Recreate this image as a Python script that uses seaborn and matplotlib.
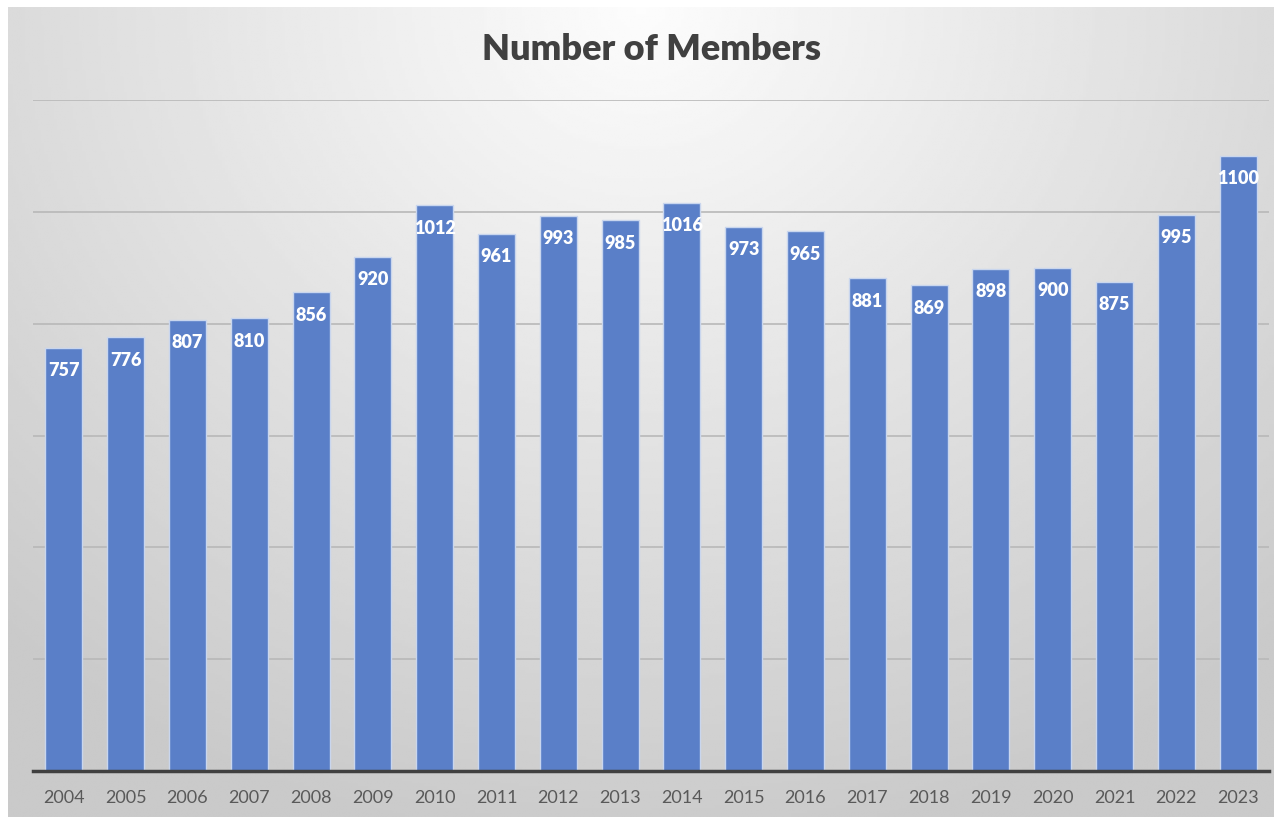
import numpy as np
import pandas as pd
import matplotlib
matplotlib.use("Agg")
import matplotlib.pyplot as plt
import seaborn as sns

years = [str(y) for y in range(2004, 2024)]
members = [757, 776, 807, 810, 856, 920, 1012, 961, 993, 985,
           1016, 973, 965, 881, 869, 898, 900, 875, 995, 1100]

df = pd.DataFrame({"year": years, "members": members})

sns.set_theme(style="white")
plt.rcParams["font.family"] = ["Lato", "DejaVu Sans"]

fig = plt.figure(figsize=(12.74, 8.17), dpi=100)
fig.patch.set_facecolor("white")

# gradient background panel (light at top centre, grey towards bottom/edges)
bg = fig.add_axes([8 / 1274, 0, 1 - 8 / 1274, 1 - 7 / 817], zorder=0)
gx, gy = np.meshgrid(np.linspace(-1, 1, 400), np.linspace(0, 1, 300))
dist = np.sqrt((gx * 0.7) ** 2 + (gy * 1.0) ** 2)
dist = np.clip(dist / 1.05, 0, 1)
shade = 0.99 - 0.2 * dist
bg.imshow(shade, cmap="gray", vmin=0, vmax=1, aspect="auto",
          extent=[0, 1, 0, 1], origin="upper")
bg.set_axis_off()

ax = fig.add_axes([33 / 1274, 1 - 771 / 817, (1269 - 33) / 1274, (771 - 100) / 817], zorder=1)
ax.patch.set_alpha(0)

sns.barplot(data=df, x="year", y="members", color="#5a7fc8", saturation=1,
            width=0.6, edgecolor="#c9d6ee", linewidth=1.0, ax=ax, zorder=3)

ax.set_ylim(0, 1200)
ax.set_yticks(range(0, 1201, 200))
ax.yaxis.grid(True, color="#b8b8b8", linewidth=1.2, zorder=0)
ax.set_yticklabels([])
ax.tick_params(axis="y", length=0)
ax.set_xlim(-0.5, len(years) - 0.5)
ax.set_xlabel("")
ax.set_ylabel("")
for s in ["top", "right", "left"]:
    ax.spines[s].set_visible(False)
ax.spines["bottom"].set_color("#404040")
ax.spines["bottom"].set_linewidth(2.5)
ax.spines["bottom"].set_zorder(4)
ax.tick_params(axis="x", length=0, labelsize=13, labelcolor="#595959", pad=14)

for p in ax.patches:
    ax.annotate(f"{int(p.get_height())}",
                (p.get_x() + p.get_width() / 2, p.get_height()),
                xytext=(0, -23), textcoords="offset pixels",
                ha="center", va="center", color="white",
                fontsize=13, fontweight="heavy", zorder=5)

fig.text(651 / 1274, 1 - 50 / 817, "Number of Members", ha="center", va="center",
         fontsize=26, fontweight="heavy", color="#404040")

fig.savefig("out.png", dpi=100)
